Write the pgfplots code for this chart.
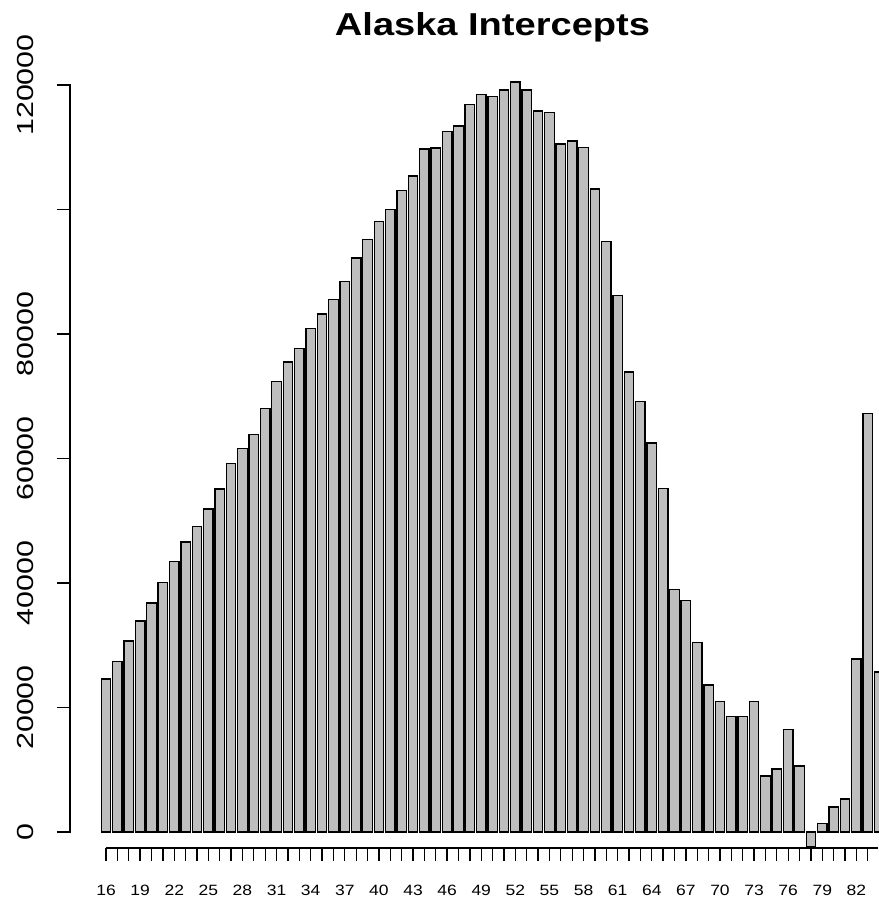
\documentclass[border=0pt]{standalone}
\usepackage{fontspec}
\setmainfont{Liberation Sans}
\usepackage{pgfplots}
\usepackage{pgfplotstable}
\pgfplotsset{compat=1.18}
\definecolor{barfill}{RGB}{190,190,190}
\newcommand\xl[1]{{\fontsize{7.47}{8}\selectfont\scalebox{1.17}[1]{#1}}}
\newcommand\yl[1]{{\fontsize{11.6}{12}\selectfont\scalebox{1.31}[1]{#1}}}
\pgfplotstableread{
age value
16 24600
17 27400
18 30700
19 33900
20 36800
21 40100
22 43500
23 46600
24 49100
25 51900
26 55100
27 59200
28 61600
29 63900
30 68000
31 72400
32 75500
33 77700
34 80900
35 83200
36 85500
37 88400
38 92200
39 95200
40 98100
41 100000
42 103100
43 105400
44 109700
45 109900
46 112500
47 113400
48 116900
49 118500
50 118200
51 119200
52 120500
53 119200
54 115800
55 115600
56 110500
57 111000
58 110000
59 103300
60 94900
61 86200
62 73900
63 69100
64 62500
65 55200
66 38900
67 37200
68 30400
69 23600
70 21000
71 18500
72 18600
73 21000
74 9000
75 10100
76 16500
77 10600
78 -2400
79 1400
80 4000
81 5300
82 27800
83 67200
84 25700
}\datatable
\begin{document}
\begin{tikzpicture}
\begin{axis}[
  scale only axis,
  width=404pt, height=404pt,
  xmin=12.83, xmax=83.9,
  ymin=-2570, ymax=127229,
  clip=false,
  scaled y ticks=false,
  axis x line*=bottom,
  axis y line*=left,
  x axis line style={line width=0.65pt, shorten <=18pt},
  y axis line style={draw=none},
  tick align=outside,
  major tick length=6.5pt,
  tick style={black, line width=0.65pt},
  xtick={16,...,83},
  xticklabels={\xl{16},,,\xl{19},,,\xl{22},,,\xl{25},,,\xl{28},,,\xl{31},,,\xl{34},,,\xl{37},,,\xl{40},,,\xl{43},,,\xl{46},,,\xl{49},,,\xl{52},,,\xl{55},,,\xl{58},,,\xl{61},,,\xl{64},,,\xl{67},,,\xl{70},,,\xl{73},,,\xl{76},,,\xl{79},,,\xl{82},},
  xticklabel style={anchor=base, inner sep=0pt, yshift=-17.4pt},
  ytick={0,20000,40000,60000,80000,100000,120000},
  yticklabels={\yl{0},\yl{20000},\yl{40000},\yl{60000},\yl{80000},{},\yl{120000}},
  yticklabel style={rotate=90, anchor=base, inner sep=0pt, yshift=11.5pt},
  title={\fontsize{15.85}{16}\selectfont\bfseries\scalebox{1.2}[1]{Alaska Intercepts}},
  title style={at={(rel axis cs:0.5229,1)}, anchor=base, yshift=-4pt, inner sep=0pt},
]
\addplot[ybar, bar width=0.8333, bar shift=0pt, fill=barfill, draw=black, line width=0.65pt] table[x=age, y=value] {\datatable};
\coordinate (SW) at (rel axis cs:0,0);
\coordinate (NE) at (rel axis cs:1,1);
\coordinate (YA) at (axis cs:12.83,0);
\coordinate (YB) at (axis cs:12.83,120000);
\end{axis}
\draw[line width=1pt, black] ([yshift=-0.33pt]YA) -- ([yshift=0.33pt]YB);
\pgfresetboundingbox
\path ([shift={(-35pt,-25pt)}]SW) rectangle ([shift={(0pt,20pt)}]NE);
\end{tikzpicture}
\end{document}
